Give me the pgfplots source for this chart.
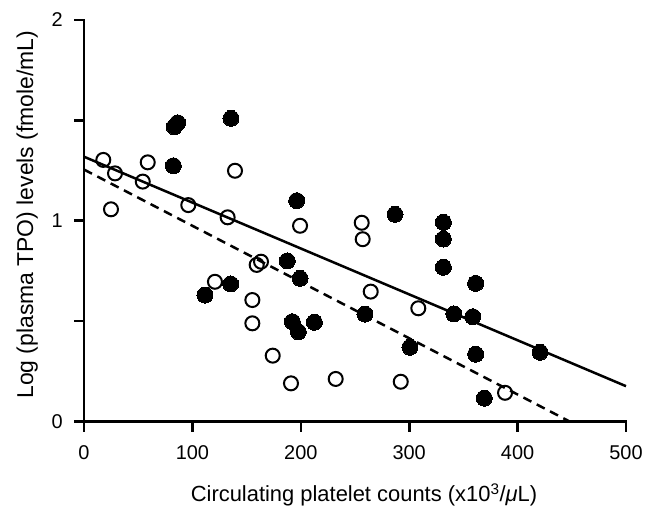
\documentclass[border=0pt]{standalone}
\usepackage{fontspec}
\setmainfont{Liberation Sans}
\usepackage{pgfplots}
\pgfplotsset{compat=1.18}
\begin{document}
\begin{tikzpicture}
\path[use as bounding box] (-84bp,-87.5bp) rectangle (563bp,421.5bp);
\begin{axis}[
  at={(0,0)}, anchor=south west,
  scale only axis,
  width=542bp, height=401.5bp,
  xmin=0, xmax=500, ymin=0, ymax=2,
  axis line style={draw=none},
  xtick pos=left, ytick pos=left,
  xtick={0,100,200,300,400,500},
  ytick={0,1,2},
  major tick length=0pt, minor tick length=0pt,
  /pgf/number format/assume math mode=true,
  xticklabel style={font=\fontsize{20}{24}\selectfont, anchor=north, inner sep=0pt, yshift=-24bp},
  yticklabel style={font=\fontsize{20}{24}\selectfont, anchor=east, inner sep=0pt, xshift=-21bp},
  xlabel={Circulating platelet counts (x10\textsuperscript{3}/\textit{μ}L)},
  ylabel={Log (plasma TPO) levels (fmole/mL)},
  xlabel style={font=\fontsize{22}{26}\selectfont, at={(axis description cs:0.5166,-0.1993)}, anchor=base},
  ylabel style={font=\fontsize{23}{27}\selectfont, at={(axis description cs:-0.105,0.515)}, anchor=center},
  clip=false,
]
\draw[black, line width=2.6bp, line cap=rect] (rel axis cs:0,1) -- (rel axis cs:0,0) -- (rel axis cs:1,0);
% tick marks
\draw[black, line width=2.6bp] (axis cs:0,0) -- (axis cs:0,-0.05);
\draw[black, line width=2.6bp] (axis cs:100,0) -- (axis cs:100,-0.05);
\draw[black, line width=2.6bp] (axis cs:200,0) -- (axis cs:200,-0.05);
\draw[black, line width=2.6bp] (axis cs:300,0) -- (axis cs:300,-0.05);
\draw[black, line width=2.6bp] (axis cs:400,0) -- (axis cs:400,-0.05);
\draw[black, line width=2.6bp] (axis cs:500,0) -- (axis cs:500,-0.05);
\draw[black, line width=2.6bp] (axis cs:0,0) -- (axis cs:-9.3,0);
\draw[black, line width=2.6bp] (axis cs:0,0.5) -- (axis cs:-9.3,0.5);
\draw[black, line width=2.6bp] (axis cs:0,1) -- (axis cs:-9.3,1);
\draw[black, line width=2.6bp] (axis cs:0,1.5) -- (axis cs:-9.3,1.5);
\draw[black, line width=2.6bp] (axis cs:0,2) -- (axis cs:-9.3,2);
% regression lines
\addplot[black, line width=2.5bp] coordinates {(0,1.319) (500,0.176)};
\addplot[black, line width=2.5bp, dash pattern=on 9bp off 6bp] coordinates {(0,1.255) (448,0)};
% open circles
\addplot[only marks, mark=o, mark size=7bp, mark options={line width=2bp, black}] coordinates {
(17.8,1.303) (28.6,1.236) (58.8,1.291) (24.9,1.057) (54.2,1.195) (139.3,1.249)
(96.2,1.078) (132.5,1.017) (159.3,0.780) (163.3,0.796) (199.3,0.975) (256.2,0.990)
(257.1,0.908) (120.8,0.696) (155.3,0.605) (155.3,0.489) (264.5,0.647) (174.1,0.328)
(190.95,0.190) (232.2,0.212) (308.4,0.564) (292.2,0.198) (388.4,0.143)
};
% filled circles
\addplot[only marks, mark=*, mark size=8bp, mark options={black, fill=black, line width=0pt}] coordinates {
(83.3,1.468) (86.4,1.488) (135.6,1.510) (82.4,1.274) (196.2,1.100) (187.5,0.800)
(199.3,0.713) (135.3,0.685) (111.6,0.630) (192.2,0.497) (197.7,0.447) (212.5,0.494)
(259.2,0.535) (286.9,1.032) (331.5,0.992) (331.5,0.909) (331.5,0.768) (361.3,0.688)
(341.3,0.536) (358.6,0.522) (300.7,0.370) (361.3,0.335) (369.3,0.116) (420.7,0.345)
};
\end{axis}
\end{tikzpicture}
\end{document}
